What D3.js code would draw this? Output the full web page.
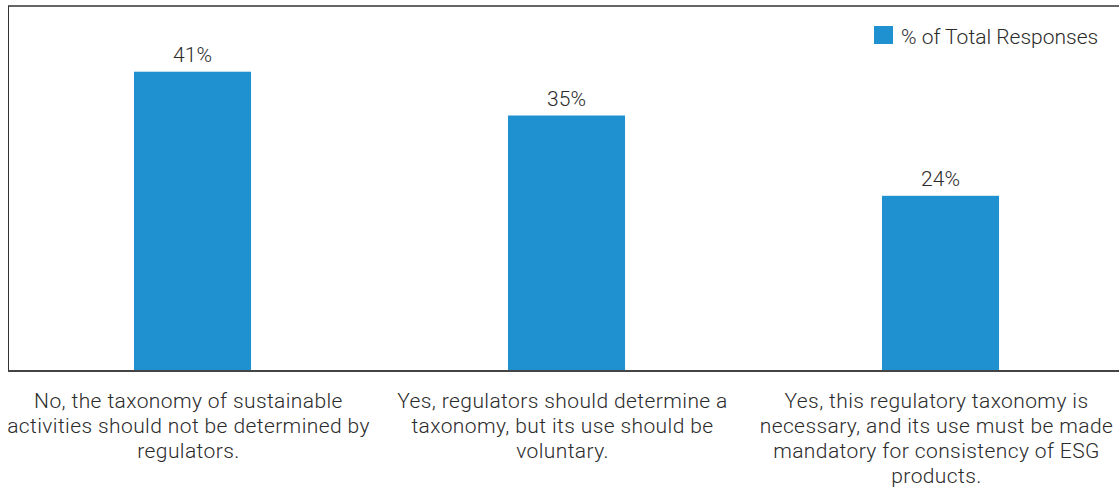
<!DOCTYPE html>
<html>
<head>
<meta charset="utf-8">
<script src="https://cdn.jsdelivr.net/npm/d3@7"></script>
<style>
  html, body { margin: 0; padding: 0; background: #fff; }
  svg { display: block; }
  text { font-family: Roboto, "DejaVu Sans", sans-serif; font-weight: 300; fill: #2b2b2b; }
</style>
</head>
<body>
<svg id="chart" width="1119" height="489"></svg>
<script>
const categories = [
  ["No, the taxonomy of sustainable", "activities should not be determined by", "regulators."],
  ["Yes, regulators should determine a", "taxonomy, but its use should be", "voluntary."],
  ["Yes, this regulatory taxonomy is", "necessary, and its use must be made", "mandatory for consistency of ESG", "products."]
];
const categoryKeys = ["no", "voluntary", "mandatory"];
const values = [41, 35, 24];
const valueLabels = ["41%", "35%", "24%"];
const seriesName = "% of Total Responses";
const yDomain = [0, 50];

const svg = d3.select("#chart");
const plot = { left: 8, top: 6, right: 1130, bottom: 371 };
const barColor = "#1f91d0";

const x = d3.scaleBand()
  .domain(categoryKeys)
  .range([5.5, 1127.5])
  .paddingInner(0.687)
  .paddingOuter(0.3435);

const y = d3.scaleLinear().domain(yDomain).range([plot.bottom, plot.top]);

// frame
svg.append("line").attr("x1", plot.left).attr("x2", 1119).attr("y1", plot.top).attr("y2", plot.top)
  .attr("stroke", "#666").attr("stroke-width", 2);
svg.append("line").attr("x1", plot.left + 0.5).attr("x2", plot.left + 0.5).attr("y1", plot.top).attr("y2", plot.bottom)
  .attr("stroke", "#333").attr("stroke-width", 1);

// bars
svg.selectAll("rect.bar").data(values).enter().append("rect")
  .attr("class", "bar")
  .attr("x", (d, i) => x(categoryKeys[i]))
  .attr("width", x.bandwidth())
  .attr("y", d => y(d))
  .attr("height", d => y(0) - y(d))
  .attr("fill", barColor);

// value labels
svg.selectAll("text.val").data(values).enter().append("text")
  .attr("class", "val")
  .attr("x", (d, i) => x(categoryKeys[i]) + x.bandwidth() / 2)
  .attr("y", d => y(d) - 10)
  .attr("text-anchor", "middle")
  .attr("font-size", 21)
  .text((d, i) => valueLabels[i]);

// x axis (baseline)
const xAxis = d3.axisBottom(x).tickSize(0).tickFormat("");
const gx = svg.append("g").attr("transform", `translate(0,${plot.bottom})`).call(xAxis);
gx.select(".domain").attr("d", `M${plot.left},0H1119`).attr("stroke", "#444").attr("stroke-width", 2);

// category labels
categories.forEach((lines, i) => {
  const cx = x(categoryKeys[i]) + x.bandwidth() / 2 - 4;
  const t = svg.append("text").attr("text-anchor", "middle").attr("font-size", 21)
    .attr("letter-spacing", 0.4);
  lines.forEach((ln, j) => {
    t.append("tspan").attr("x", cx).attr("y", 408 + j * 25).text(ln);
  });
});

// legend
svg.append("rect").attr("x", 874).attr("y", 26).attr("width", 19).attr("height", 18).attr("fill", barColor);
svg.append("text").attr("x", 901).attr("y", 44).attr("font-size", 21).text(seriesName);
</script>
</body>
</html>
